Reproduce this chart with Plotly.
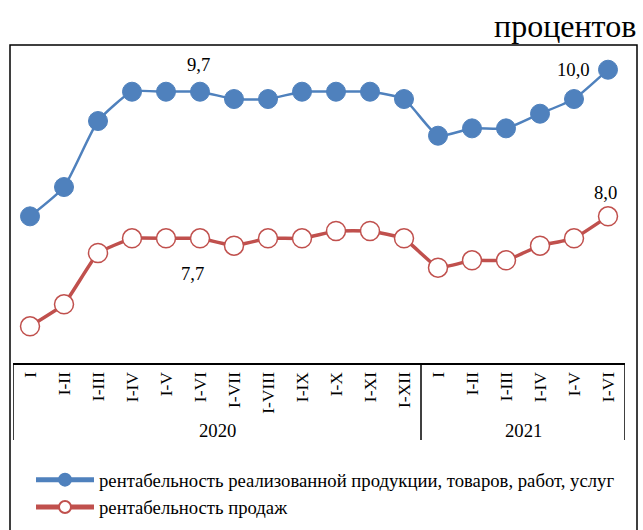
import plotly.graph_objects as go

years = ["2020"] * 12 + ["2021"] * 6
periods = ["I", "I-II", "I-III", "I-IV", "I-V", "I-VI", "I-VII", "I-VIII", "I-IX", "I-X", "I-XI", "I-XII",
           "I", "I-II", "I-III", "I-IV", "I-V", "I-VI"]
prod_profit = [8.0, 8.4, 9.3, 9.7, 9.7, 9.7, 9.6, 9.6, 9.7, 9.7, 9.7, 9.6,
               9.1, 9.2, 9.2, 9.4, 9.6, 10.0]
sales_profit = [6.5, 6.8, 7.5, 7.7, 7.7, 7.7, 7.6, 7.7, 7.7, 7.8, 7.8, 7.7,
                7.3, 7.4, 7.4, 7.6, 7.7, 8.0]
name_prod = "рентабельность реализованной продукции, товаров, работ, услуг"
name_sales = "рентабельность продаж"
unit_title = "процентов"

# which points get value labels, and label offsets (px)
blue_labels = {5: dict(xshift=-2, yshift=27, xanchor="center"),
               17: dict(xshift=-16, yshift=0, xanchor="right")}
red_labels = {5: dict(xshift=-8, yshift=-35, xanchor="center"),
              17: dict(xshift=-3, yshift=24, xanchor="center")}

def fmt(v):
    return f"{v:.1f}".replace(".", ",")

FONT = "Liberation Serif, Times New Roman, serif"
BLUE = "#4F81BD"
RED = "#C0504D"

# plot area geometry (px)
W, H = 643, 530
L, R, T, B = 13, 18, 40, 167
PW, PH = W - L - R, H - T - B

def py(px_y):
    return (H - B - px_y) / PH

def px_x(px):
    return (px - L) / PW

xs = list(range(len(periods)))

fig = go.Figure()
fig.add_trace(go.Scatter(
    x=xs, y=prod_profit, name=name_prod, mode="lines+markers",
    line=dict(color=BLUE, width=2.5, shape="spline", smoothing=0.5),
    marker=dict(size=19, color=BLUE, line=dict(color=BLUE, width=1)),
))
fig.add_trace(go.Scatter(
    x=xs, y=sales_profit, name=name_sales, mode="lines+markers",
    line=dict(color=RED, width=3.5, shape="spline", smoothing=0.3),
    marker=dict(size=19, color="#FFFFFF", line=dict(color=RED, width=1.5)),
))

for labels, vals in ((blue_labels, prod_profit), (red_labels, sales_profit)):
    for i, opt in labels.items():
        fig.add_annotation(x=xs[i], y=vals[i], text=fmt(vals[i]), showarrow=False,
                           yanchor="middle", font=dict(family=FONT, size=18.7, color="#000000"),
                           **opt)

# year groups: dividers and labels
groups = []
for i, y in enumerate(years):
    if not groups or groups[-1][0] != y:
        groups.append([y, i, i])
    else:
        groups[-1][2] = i
bounds = sorted({g[1] - 0.5 for g in groups} | {g[2] + 0.5 for g in groups})
for b in bounds:
    fig.add_shape(type="line", xref="x", yref="paper", x0=b, x1=b, y0=0, y1=py(440),
                  line=dict(color="#000000", width=1.5))
for y, i0, i1 in groups:
    fig.add_annotation(x=(i0 + i1) / 2, y=py(430), yref="paper", text=y, showarrow=False,
                       xanchor="center", yanchor="middle",
                       font=dict(family=FONT, size=18.7, color="#000000"))

fig.update_layout(
    width=W, height=H,
    margin=dict(l=L, r=R, t=T, b=B, autoexpand=False),
    paper_bgcolor="white", plot_bgcolor="white",
    font=dict(family=FONT, size=17, color="#000000"),
    showlegend=True,
    legend=dict(orientation="v", xref="container", yref="container",
                x=31 / W, y=1 - 461 / H, xanchor="left", yanchor="top",
                font=dict(family=FONT, size=18.7), itemwidth=58, itemsizing="constant",
                tracegroupgap=2, bgcolor="rgba(0,0,0,0)"),
    xaxis=dict(range=[-0.5, len(periods) - 0.5], showline=True, linecolor="#000000", linewidth=2,
               tickmode="array", tickvals=xs, ticktext=periods,
               ticks="", showgrid=False, zeroline=False, tickangle=-90, automargin=False,
               tickfont=dict(family=FONT, size=17.5, color="#000000")),
    yaxis=dict(range=[6.0, 10.405], visible=False, showgrid=False, zeroline=False,
               automargin=False),
)

fig.add_shape(type="rect", xref="paper", yref="paper",
              x0=px_x(10), x1=px_x(637), y0=py(533), y1=py(45),
              line=dict(color="#000000", width=1.5), fillcolor="rgba(0,0,0,0)", layer="below")

fig.add_annotation(text=unit_title, xref="paper", yref="paper",
                   x=px_x(638), y=py(26), xanchor="right", yanchor="middle",
                   showarrow=False, font=dict(family=FONT, size=32, color="#000000"))

fig.write_html("out.html", config={"displayModeBar": False},
               post_script="document.body.style.margin='0';")
